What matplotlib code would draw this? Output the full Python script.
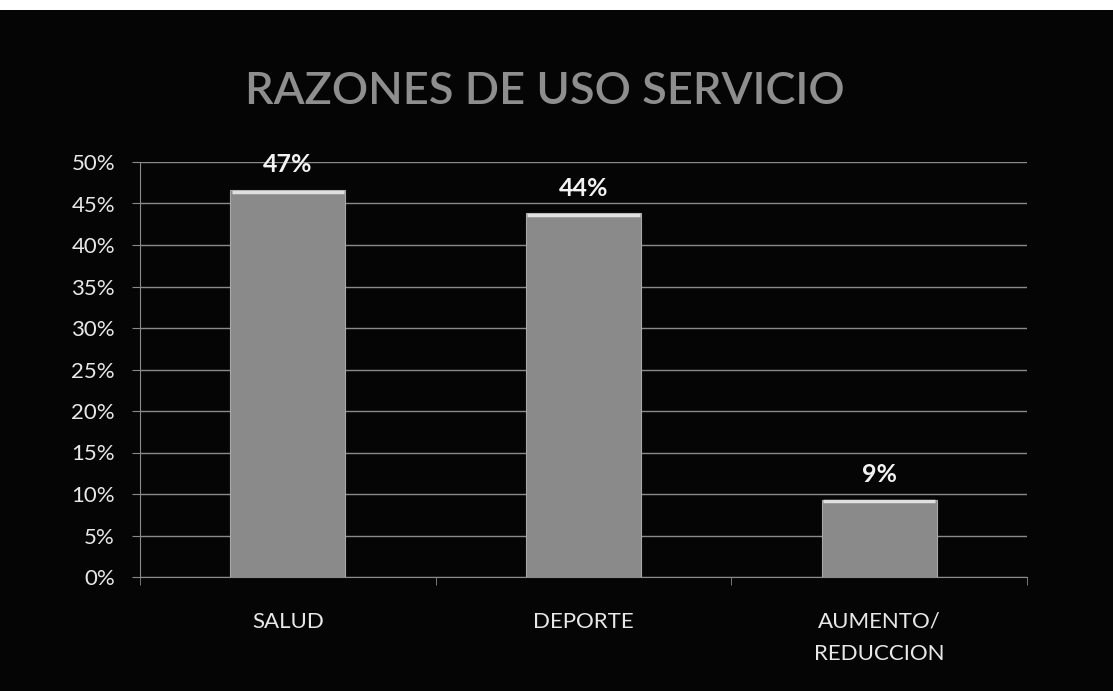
import matplotlib
matplotlib.use("Agg")
import matplotlib.pyplot as plt
from matplotlib.patches import Rectangle

# datos
categorias = ["SALUD", "DEPORTE", "AUMENTO/\nREDUCCION"]
valores = [0.466, 0.438, 0.093]
etiquetas = ["47%", "44%", "9%"]
ticks_y = [0, 0.05, 0.10, 0.15, 0.20, 0.25, 0.30, 0.35, 0.40, 0.45, 0.50]

plt.rcParams['font.family'] = ['Lato', 'DejaVu Sans']

fig = plt.figure(figsize=(11.13, 6.91), dpi=100, facecolor="#050505")
# franja blanca arriba
fig.patches.append(Rectangle((0, 1 - 10/691), 1, 10/691, transform=fig.transFigure,
                             facecolor="white", edgecolor="none"))

ax = fig.add_axes([140/1113, 1 - 577/691, 887/1113, 415/691])
ax.set_facecolor("#050505")

x = range(len(categorias))
bars = ax.bar(x, valores, width=0.39, color="#8a8a8a", edgecolor="#a8a8a8",
              linewidth=0.8, zorder=3)
# borde claro arriba de cada barra
for b in bars:
    ax.plot([b.get_x() + 0.005, b.get_x() + b.get_width() - 0.005],
            [b.get_height() - 0.002, b.get_height() - 0.002],
            color="#e0e0e0", lw=2.5, zorder=4, solid_capstyle="butt")

for i, v in enumerate(valores):
    ax.annotate(etiquetas[i], (i, v), xytext=(0, 10), textcoords="offset points",
                ha="center", va="bottom", color="#f2f2f2", fontsize=18,
                fontweight="bold")

ax.set_xlim(-0.5, 2.5)
ax.set_ylim(0, 0.5)
ax.set_yticks(ticks_y)
ax.set_yticklabels([f"{int(round(t*100))}%" for t in ticks_y])
ax.yaxis.grid(True, color="#8a8a8a", linewidth=1.0, zorder=1)
ax.set_axisbelow(True)

ax.set_xticks(list(x))
ax.set_xticklabels(categorias, linespacing=1.75)
ax.set_xticks([-0.5, 0.5, 1.5, 2.5], minor=True)
ax.tick_params(axis="x", which="major", length=0, pad=25, colors="#e8e8e8",
               labelsize=16)
ax.tick_params(axis="x", which="minor", length=6, color="#8a8a8a", direction="out")
ax.tick_params(axis="y", length=6, color="#8a8a8a", pad=12, labelcolor="#e8e8e8",
               labelsize=16)

for s in ["top", "right"]:
    ax.spines[s].set_visible(False)
ax.spines["left"].set_color("#8a8a8a")
ax.spines["bottom"].set_color("#8a8a8a")

fig.text(545/1113, 1 - 92/691, "RAZONES DE USO SERVICIO", ha="center", va="center",
         color="#8e8e8e", fontsize=32.5, fontweight="semibold")

fig.savefig("out.png", dpi=100, facecolor=fig.get_facecolor())
